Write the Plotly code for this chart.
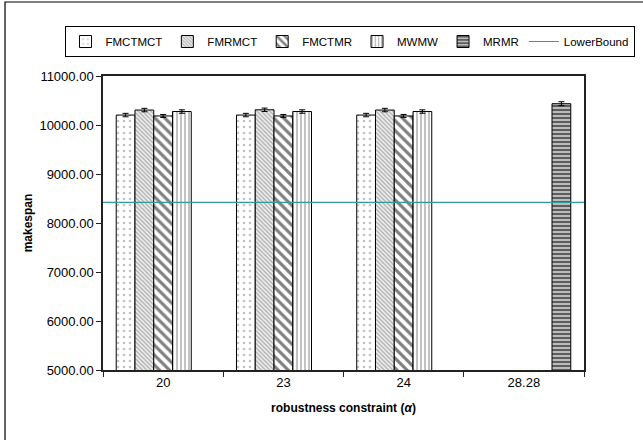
import plotly.graph_objects as go

categories = ["20", "23", "24", "28.28"]
series_names = ["FMCTMCT", "FMRMCT", "FMCTMR", "MWMW", "MRMR"]
fmctmct = [10203, 10203, 10203, None]
fmrmct = [10305, 10310, 10305, None]
fmctmr = [10185, 10185, 10185, None]
mwmw = [10275, 10275, 10275, None]
mrmr = [None, None, None, 10435]
err_fmctmct = [35, 35, 35, 0]
err_fmrmct = [35, 35, 35, 0]
err_fmctmr = [30, 30, 30, 0]
err_mwmw = [35, 35, 35, 0]
err_mrmr = [0, 0, 0, 40]
lower_bound = 8420
y_ticks = [5000, 6000, 7000, 8000, 9000, 10000, 11000]

FONT = "Liberation Sans, Arial, sans-serif"

values = [fmctmct, fmrmct, fmctmr, mwmw, mrmr]
errors = [err_fmctmct, err_fmrmct, err_fmctmr, err_mwmw, err_mrmr]
patterns = [
    dict(shape=".", fgcolor="#888888", bgcolor="white", size=6, solidity=0.15),
    dict(shape="\\", fgcolor="#666666", bgcolor="#eeeeee", size=3, solidity=0.4),
    dict(shape="\\", fgcolor="black", bgcolor="white", size=7, solidity=0.45),
    dict(shape="|", fgcolor="#333333", bgcolor="white", size=4, solidity=0.3),
    dict(shape="-", fgcolor="black", bgcolor="#bbbbbb", size=4, solidity=0.5),
]

fig = go.Figure()
for name, vals, errs, pat in zip(series_names, values, errors, patterns):
    fig.add_trace(go.Bar(
        name=name, x=categories, y=vals,
        marker=dict(color="white", line=dict(color="black", width=1), pattern=pat),
        error_y=dict(type="data", array=errs, visible=True, color="black", thickness=1, width=3),
    ))

fig.add_trace(go.Scatter(
    name="LowerBound", x=[0, 1], y=[lower_bound, lower_bound], mode="lines",
    line=dict(color="#2e9c9c", width=1.2), xaxis="x2", yaxis="y",
))

fig.update_layout(
    width=643, height=440,
    margin=dict(l=103, r=59, t=76, b=70),
    paper_bgcolor="white", plot_bgcolor="white",
    font=dict(family=FONT, size=12, color="black"),
    barmode="group", bargap=0.22, bargroupgap=0,
    showlegend=True,
    legend=dict(
        orientation="h", x=-0.08, xanchor="left", y=1.17, yanchor="top",
        bordercolor="black", borderwidth=1, bgcolor="white",
        font=dict(family=FONT, size=11.5), itemwidth=30,
        tracegroupgap=0, traceorder="normal",
    ),
    xaxis=dict(
        type="category", showline=True, linecolor="#222222", linewidth=1.5, mirror=True,
        ticks="outside", ticklen=5, tickson="boundaries", tickcolor="#222222",
        tickfont=dict(family=FONT, size=13), showgrid=False,
        title=dict(text="<b>robustness constraint (<i>α</i>)</b>", font=dict(family=FONT, size=12), standoff=14),
    ),
    xaxis2=dict(overlaying="x", range=[0, 1], visible=False, showgrid=False),
    yaxis=dict(
        range=[5000, 11000], tickvals=y_ticks, tickformat=".2f",
        showline=True, linecolor="#222222", linewidth=1.5, mirror=True,
        ticks="outside", ticklen=5, tickcolor="#222222", showgrid=False, zeroline=False,
        tickfont=dict(family=FONT, size=13),
        title=dict(text="<b>makespan</b>", font=dict(family=FONT, size=12), standoff=4),
    ),
    shapes=[dict(
        type="rect", xref="paper", yref="paper",
        x0=-0.2037, x1=1.3, y0=-0.3, y1=1.2517,
        line=dict(color="black", width=1.2), fillcolor="rgba(0,0,0,0)", layer="below",
    )],
)

fig.write_html("out.html")
